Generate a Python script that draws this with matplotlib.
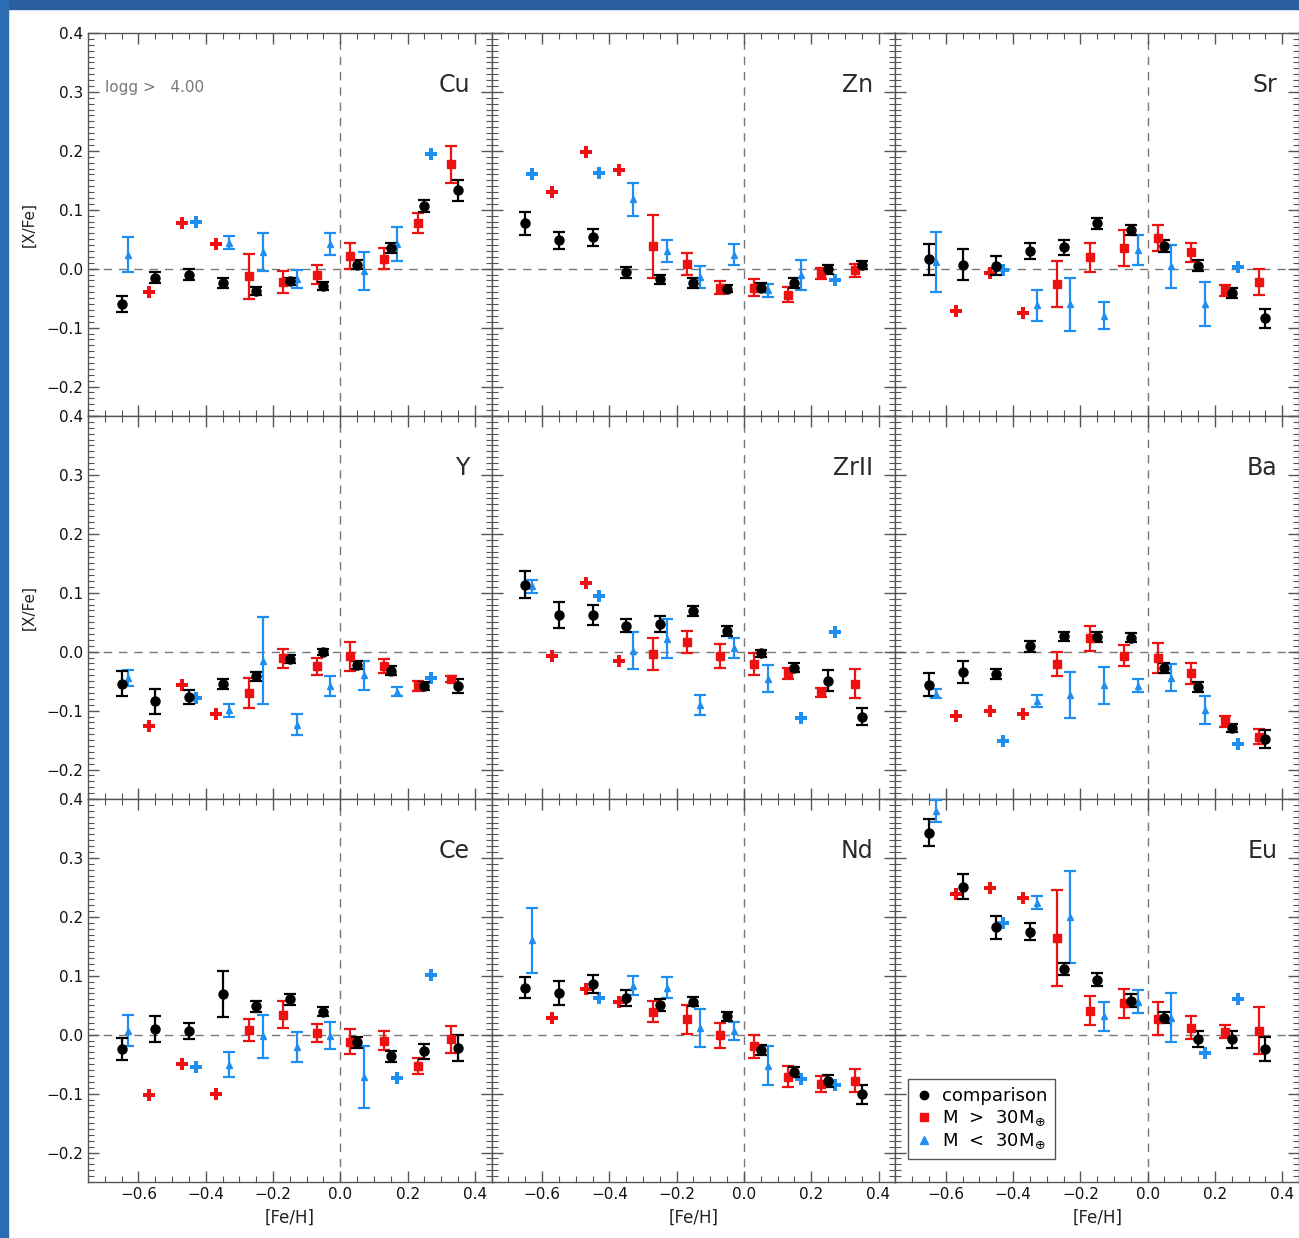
import matplotlib.pyplot as plt
import numpy as np
from matplotlib.ticker import MultipleLocator
from matplotlib.patches import Rectangle
from matplotlib.lines import Line2D

# [Fe/H] bin centres of the three samples
feh_comp = [-0.65, -0.55, -0.45, -0.35, -0.25, -0.15, -0.05, 0.05, 0.15, 0.25, 0.35]
feh_big = [-0.57, -0.47, -0.37, -0.27, -0.17, -0.07, 0.03, 0.13, 0.23, 0.33]
feh_small = [-0.63, -0.43, -0.33, -0.23, -0.13, -0.03, 0.07, 0.17, 0.27]

# --- Cu ---
cu_comp = [-0.060, -0.015, -0.010, -0.024, -0.038, -0.021, -0.029, 0.007, 0.035, 0.106, 0.133]
cu_comp_err = [0.013, 0.009, 0.009, 0.008, 0.007, 0.006, 0.007, 0.007, 0.009, 0.010, 0.018]
cu_big = [-0.040, 0.078, 0.042, -0.013, -0.023, -0.010, 0.021, 0.017, 0.078, 0.177]
cu_big_err = [0, 0, 0, 0.038, 0.019, 0.016, 0.022, 0.018, 0.017, 0.031]
cu_small = [0.024, 0.080, 0.044, 0.028, -0.018, 0.042, -0.004, 0.042, 0.194]
cu_small_err = [0.029, 0, 0.011, 0.032, 0.015, 0.018, 0.032, 0.029, 0]

# --- Zn ---
zn_comp = [0.077, 0.048, 0.053, -0.006, -0.018, -0.024, -0.034, -0.032, -0.024, -0.001, 0.006]
zn_comp_err = [0.020, 0.014, 0.014, 0.009, 0.008, 0.009, 0.006, 0.007, 0.008, 0.008, 0.007]
zn_big = [0.130, 0.198, 0.167, 0.038, 0.008, -0.032, -0.032, -0.044, -0.008, -0.003]
zn_big_err = [0, 0, 0, 0.053, 0.018, 0.011, 0.014, 0.013, 0.010, 0.011]
zn_small = [0.161, 0.162, 0.118, 0.030, -0.014, 0.024, -0.037, -0.011, -0.019]
zn_small_err = [0, 0, 0.028, 0.018, 0.018, 0.018, 0.011, 0.025, 0]

# --- Sr ---
sr_comp = [0.016, 0.007, 0.005, 0.030, 0.036, 0.077, 0.066, 0.038, 0.005, -0.041, -0.084]
sr_comp_err = [0.026, 0.026, 0.016, 0.014, 0.012, 0.009, 0.009, 0.010, 0.009, 0.009, 0.016]
sr_big = [-0.071, -0.007, -0.075, -0.026, 0.019, 0.035, 0.052, 0.028, -0.037, -0.023]
sr_big_err = [0, 0, 0, 0.039, 0.025, 0.030, 0.022, 0.016, 0.009, 0.022]
sr_small = [0.011, -0.002, -0.062, -0.060, -0.080, 0.032, 0.004, -0.060, 0.003]
sr_small_err = [0.051, 0, 0.026, 0.045, 0.023, 0.025, 0.037, 0.038, 0]

# --- Y ---
y_comp = [-0.054, -0.084, -0.077, -0.055, -0.042, -0.012, -0.001, -0.022, -0.032, -0.058, -0.058]
y_comp_err = [0.022, 0.021, 0.012, 0.009, 0.008, 0.007, 0.005, 0.007, 0.007, 0.007, 0.012]
y_big = [-0.126, -0.056, -0.105, -0.070, -0.011, -0.025, -0.008, -0.025, -0.058, -0.047]
y_big_err = [0, 0, 0, 0.025, 0.016, 0.014, 0.024, 0.012, 0.008, 0.005]
y_small = [-0.045, -0.079, -0.099, -0.015, -0.124, -0.058, -0.040, -0.068, -0.044]
y_small_err = [0.014, 0, 0.011, 0.074, 0.018, 0.017, 0.025, 0.008, 0]

# --- ZrII ---
zr_comp = [0.114, 0.062, 0.062, 0.044, 0.047, 0.069, 0.035, -0.003, -0.027, -0.049, -0.110]
zr_comp_err = [0.023, 0.022, 0.017, 0.011, 0.013, 0.009, 0.008, 0.006, 0.007, 0.018, 0.014]
zr_big = [-0.007, 0.116, -0.016, -0.004, 0.016, -0.007, -0.021, -0.037, -0.069, -0.054]
zr_big_err = [0, 0, 0, 0.027, 0.019, 0.020, 0.018, 0.010, 0.008, 0.025]
zr_small = [0.111, 0.095, 0.002, 0.022, -0.090, 0.007, -0.046, -0.112, 0.034]
zr_small_err = [0.011, 0, 0.032, 0.033, 0.017, 0.017, 0.023, 0, 0]

# --- Ba ---
ba_comp = [-0.056, -0.034, -0.038, 0.009, 0.026, 0.025, 0.024, -0.028, -0.060, -0.130, -0.148]
ba_comp_err = [0.020, 0.019, 0.009, 0.009, 0.008, 0.008, 0.007, 0.008, 0.008, 0.007, 0.015]
ba_big = [-0.109, -0.100, -0.106, -0.021, 0.023, -0.007, -0.011, -0.037, -0.118, -0.144]
ba_big_err = [0, 0, 0, 0.021, 0.021, 0.018, 0.026, 0.017, 0.009, 0.012]
ba_small = [-0.071, -0.152, -0.084, -0.074, -0.057, -0.058, -0.044, -0.099, -0.156]
ba_small_err = [0.008, 0, 0.010, 0.039, 0.031, 0.011, 0.023, 0.024, 0]

# --- Ce ---
ce_comp = [-0.024, 0.010, 0.006, 0.069, 0.048, 0.060, 0.039, -0.013, -0.037, -0.028, -0.023]
ce_comp_err = [0.019, 0.022, 0.014, 0.039, 0.009, 0.009, 0.008, 0.009, 0.009, 0.013, 0.022]
ce_big = [-0.102, -0.049, -0.101, 0.008, 0.034, 0.003, -0.012, -0.010, -0.053, -0.008]
ce_big_err = [0, 0, 0, 0.019, 0.023, 0.015, 0.021, 0.016, 0.013, 0.023]
ce_small = [0.007, -0.054, -0.051, -0.003, -0.021, -0.002, -0.072, -0.073, 0.101]
ce_small_err = [0.026, 0, 0.021, 0.037, 0.026, 0.023, 0.053, 0, 0]

# --- Nd ---
nd_comp = [0.080, 0.071, 0.086, 0.062, 0.050, 0.056, 0.031, -0.026, -0.063, -0.079, -0.101]
nd_comp_err = [0.018, 0.020, 0.015, 0.014, 0.010, 0.008, 0.007, 0.008, 0.009, 0.010, 0.016]
nd_big = [0.029, 0.077, 0.055, 0.039, 0.026, -0.001, -0.020, -0.071, -0.084, -0.078]
nd_big_err = [0, 0, 0, 0.018, 0.025, 0.021, 0.020, 0.018, 0.014, 0.020]
nd_small = [0.160, 0.062, 0.083, 0.080, 0.011, 0.006, -0.053, -0.076, -0.085]
nd_small_err = [0.055, 0, 0.016, 0.018, 0.032, 0.015, 0.033, 0, 0]

# --- Eu ---
eu_comp = [0.343, 0.251, 0.182, 0.175, 0.111, 0.093, 0.058, 0.029, -0.007, -0.008, -0.024]
eu_comp_err = [0.023, 0.021, 0.020, 0.014, 0.010, 0.011, 0.011, 0.009, 0.014, 0.014, 0.020]
eu_big = [0.238, 0.249, 0.232, 0.164, 0.041, 0.053, 0.027, 0.012, 0.005, 0.007]
eu_big_err = [0, 0, 0, 0.081, 0.025, 0.025, 0.028, 0.019, 0.011, 0.040]
eu_small = [0.380, 0.190, 0.224, 0.200, 0.031, 0.056, 0.029, -0.031, 0.060]
eu_small_err = [0.019, 0, 0.011, 0.078, 0.025, 0.020, 0.042, 0, 0]

panels = [
    ('Cu', cu_comp, cu_comp_err, cu_big, cu_big_err, cu_small, cu_small_err),
    ('Zn', zn_comp, zn_comp_err, zn_big, zn_big_err, zn_small, zn_small_err),
    ('Sr', sr_comp, sr_comp_err, sr_big, sr_big_err, sr_small, sr_small_err),
    ('Y', y_comp, y_comp_err, y_big, y_big_err, y_small, y_small_err),
    ('ZrII', zr_comp, zr_comp_err, zr_big, zr_big_err, zr_small, zr_small_err),
    ('Ba', ba_comp, ba_comp_err, ba_big, ba_big_err, ba_small, ba_small_err),
    ('Ce', ce_comp, ce_comp_err, ce_big, ce_big_err, ce_small, ce_small_err),
    ('Nd', nd_comp, nd_comp_err, nd_big, nd_big_err, nd_small, nd_small_err),
    ('Eu', eu_comp, eu_comp_err, eu_big, eu_big_err, eu_small, eu_small_err),
]

C_COMP = 'black'
C_BIG = '#ee1111'
C_SMALL = '#1e8ef0'


def draw_series(ax, x, y, err, color, marker, ms):
    x = np.asarray(x)
    y = np.asarray(y)
    err = np.asarray(err)
    m = err > 0
    ax.errorbar(x[m], y[m], yerr=err[m], fmt=marker, color=color, ms=ms,
                elinewidth=1.6, capsize=4.5, capthick=1.6, clip_on=False, zorder=3)
    # single-star bins: no error, drawn as a filled cross
    if (~m).any():
        ax.plot(x[~m], y[~m], 'P', color=color, ms=9, mew=0, zorder=3)


fig = plt.figure(figsize=(12.99, 12.38), dpi=100)
gs = fig.add_gridspec(3, 3, left=88 / 1299, right=1.0, top=1 - 33 / 1238,
                      bottom=1 - 1182 / 1238, hspace=0, wspace=0)

# blue screen frame
fig.patches.append(Rectangle((0, 1 - 9 / 1238), 1, 9 / 1238, transform=fig.transFigure,
                             color='#2a5f9f', zorder=0))
fig.patches.append(Rectangle((0, 0), 8 / 1299, 1, transform=fig.transFigure,
                             color='#2c6cb0', zorder=0))

for i, (name, yc, ec, yb, eb, ys, es) in enumerate(panels):
    row, col = divmod(i, 3)
    ax = fig.add_subplot(gs[row, col])
    ax.set_xlim(-0.75, 0.45)
    ax.set_ylim(-0.25, 0.4)

    ax.axhline(0, color='#777777', lw=1, dashes=(6, 5), zorder=1)
    ax.axvline(0, color='#777777', lw=1, dashes=(6, 5), zorder=1)

    draw_series(ax, feh_small, ys, es, C_SMALL, '^', 5)
    draw_series(ax, feh_big, yb, eb, C_BIG, 's', 5.5)
    draw_series(ax, feh_comp, yc, ec, C_COMP, 'o', 6.5)

    ax.text(0.946, 0.864, name, transform=ax.transAxes, ha='right', va='center',
            fontsize=17, color='#2a2a2a')

    ax.xaxis.set_major_locator(MultipleLocator(0.2))
    ax.xaxis.set_minor_locator(MultipleLocator(0.05))
    ax.yaxis.set_major_locator(MultipleLocator(0.1))
    ax.yaxis.set_minor_locator(MultipleLocator(0.01))
    ax.tick_params(which='both', direction='in', top=True, right=True, color='#555555',
                   labelsize=11, labelcolor='#111111')
    ax.tick_params(which='major', length=8, width=1)
    ax.tick_params(which='minor', length=4, width=0.8)
    ax.tick_params(labelleft=(col == 0), labelbottom=(row == 2))
    for sp in ax.spines.values():
        sp.set_color('#555555')
        sp.set_linewidth(1)

    if i == 0:
        ax.text(0.042, 0.859, 'logg >   4.00', transform=ax.transAxes, ha='left',
                va='center', fontsize=11, color='#777777')

    if i == 8:
        handles = [
            Line2D([], [], ls='none', marker='o', color=C_COMP, ms=6),
            Line2D([], [], ls='none', marker='s', color=C_BIG, ms=6),
            Line2D([], [], ls='none', marker='^', color=C_SMALL, ms=6),
        ]
        labels = ['comparison', r'M  >  30M$_{\oplus}$', r'M  <  30M$_{\oplus}$']
        leg = ax.legend(handles, labels, loc='lower left', bbox_to_anchor=(0.032, 0.06),
                        borderaxespad=0, fontsize=13, handlelength=0.8,
                        handletextpad=0.6, borderpad=0.45, labelspacing=0.2,
                        fancybox=False, framealpha=1)
        leg.get_frame().set_edgecolor('#555555')
        leg.get_frame().set_linewidth(1)

# axis titles
for r in range(2):
    yc = 1 - (33 + 383 * (r + 0.5)) / 1238
    fig.text(29 / 1299, yc, '[X/Fe]', rotation=90, ha='center', va='center',
             fontsize=11, color='#222222')
for c in range(3):
    xc = (88 + 403.7 * (c + 0.5)) / 1299
    fig.text(xc, 1 - 1218 / 1238, '[Fe/H]', ha='center', va='center',
             fontsize=12, color='#222222')

fig.savefig('out.png', dpi=100)
